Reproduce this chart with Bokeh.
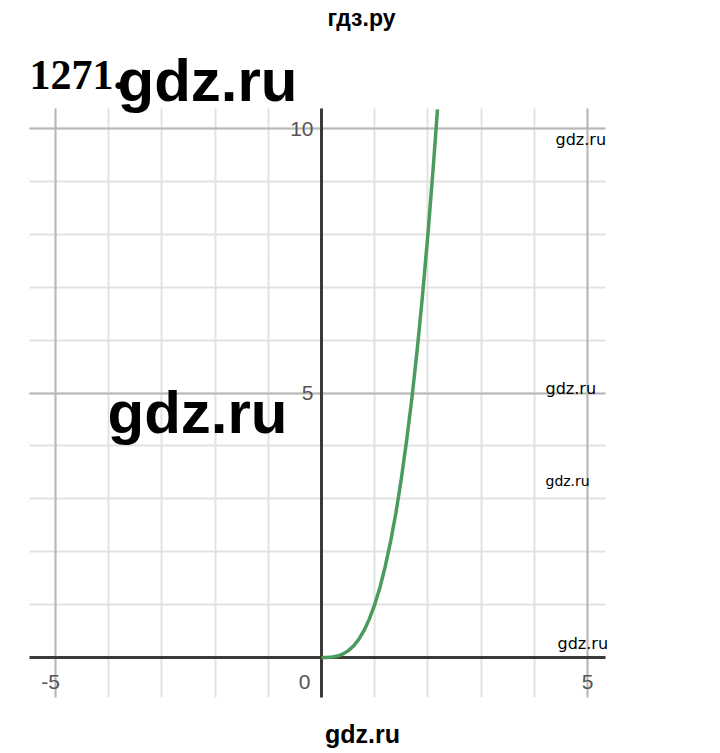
from bokeh.plotting import figure
from bokeh.models import Range1d, FixedTicker, Grid, Label
from bokeh.embed import file_html
from bokeh.resources import INLINE

# ---- data ----
curve_x = [0.0, 0.1, 0.2, 0.3, 0.4, 0.5, 0.6, 0.7, 0.8, 0.9, 1.0, 1.1, 1.2,
           1.3, 1.4, 1.5, 1.6, 1.7, 1.8, 1.9, 2.0, 2.1, 2.18]
curve_y = [0.0, 0.001, 0.008, 0.027, 0.064, 0.125, 0.216, 0.343, 0.512, 0.729,
           1.0, 1.33, 1.73, 2.2, 2.74, 3.38, 4.1, 4.91, 5.83, 6.86, 8.0, 9.26, 10.36]
x_grid_ticks = [-5, -4, -3, -2, -1, 0, 1, 2, 3, 4, 5]
y_grid_ticks = [0, 1, 2, 3, 4, 5, 6, 7, 8, 9, 10]
x_major = [-5, 5]
y_major = [5, 10]
x_tick_vals = [-5, 0, 5]
x_tick_labels = ["-5", "0", "5"]
y_tick_vals = [5, 10]
y_tick_labels = ["5", "10"]

W, H = 720, 753
# visible graph area (data units)
GX0, GX1 = -5.489, 5.338
GY0, GY1 = -0.756, 10.378

p = figure(width=W, height=H, output_backend="svg", toolbar_location=None,
           x_range=Range1d(-6.034, 7.500), y_range=Range1d(-1.815, 12.420),
           min_border=0)
p.xaxis.visible = False
p.yaxis.visible = False
p.xgrid.visible = False
p.ygrid.visible = False
p.outline_line_color = None
p.background_fill_color = "white"
p.border_fill_color = "white"

def add_grid(dim, ticks, color, width):
    cb = (GY0, GY1) if dim == 0 else (GX0, GX1)
    p.add_layout(Grid(dimension=dim, ticker=FixedTicker(ticks=ticks),
                      cross_bounds=cb, grid_line_color=color,
                      grid_line_width=width))

add_grid(0, x_grid_ticks, "#e2e2e2", 2)
add_grid(1, y_grid_ticks, "#e2e2e2", 2)
add_grid(0, x_major, "#b8b8b8", 2)
add_grid(1, y_major, "#b8b8b8", 2)
add_grid(0, [0], "#3a3a3a", 3)
add_grid(1, [0], "#3a3a3a", 3)

p.line(curve_x, curve_y, line_color="#4a9b5c", line_width=3.5)

tick_font = "Liberation Sans"
x_offsets = [-5, -17, 0]
for v, t, dxo in zip(x_tick_vals, x_tick_labels, x_offsets):
    p.add_layout(Label(x=v, y=0, x_offset=dxo, y_offset=-25, text=t,
                       text_align="center", text_baseline="middle",
                       text_font=tick_font, text_font_size="21px",
                       text_color="#555555"))
for v, t in zip(y_tick_vals, y_tick_labels):
    p.add_layout(Label(x=0, y=v, x_offset=-8, y_offset=0, text=t,
                       text_align="right", text_baseline="middle",
                       text_font=tick_font, text_font_size="21px",
                       text_color="#555555"))

def dx(px):
    return (px - 321) / 53.2

def dy(py):
    return (657 - py) / 52.9

def add_text(px, py, text, size, font="Liberation Sans", style="normal",
             align="left", color="black"):
    p.add_layout(Label(x=dx(px), y=dy(py), text=text, text_align=align,
                       text_baseline="middle", text_font=font,
                       text_font_size=size, text_font_style=style,
                       text_color=color))

add_text(361, 17, "гдз.ру", "23px", style="bold", align="center")
add_text(29, 74, "1271.", "42px", font="Liberation Serif", style="bold")
add_text(117, 80, "gdz.ru", "60px", style="bold")
add_text(107, 412, "gdz.ru", "60px", style="bold")
add_text(555, 139, "gdz.ru", "16px", font="DejaVu Sans")
add_text(545, 388, "gdz.ru", "16px", font="DejaVu Sans")
add_text(545, 481, "gdz.ru", "14px", font="DejaVu Sans")
add_text(557, 643, "gdz.ru", "16px", font="DejaVu Sans")
add_text(362, 734, "gdz.ru", "25px", style="bold", align="center")

open("out.html", "w").write(file_html(p, INLINE))
